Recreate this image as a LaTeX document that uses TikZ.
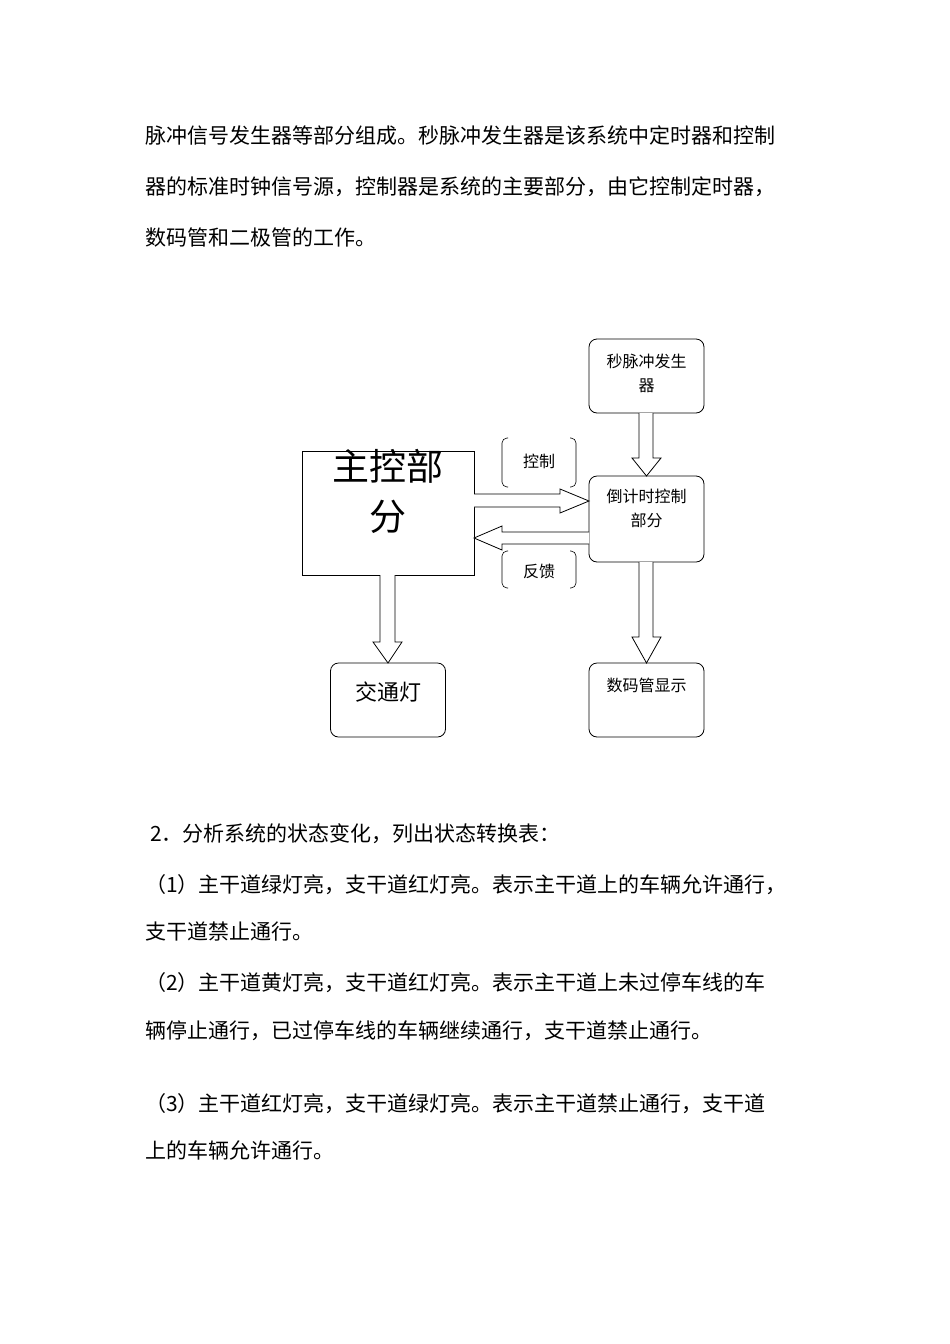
\documentclass[tikz,border=0pt]{standalone}
\usepackage{fontspec}
\setmainfont{Noto Sans CJK SC}
\begin{document}
\begin{tikzpicture}[x=1pt,y=-1pt,
  txt/.style={anchor=base west,inner sep=0pt,font=\fontsize{21}{21}\selectfont},
  rbox/.style={draw,rounded corners=8pt,line width=0.8pt,minimum width=115pt,minimum height=74pt,inner sep=0pt},
  barrow/.style={draw,line width=0.8pt,fill=white},
  brk/.style={draw,line width=0.6pt,rounded corners=5pt},
  small/.style={font=\fontsize{16}{24}\selectfont}]
\useasboundingbox (0,0) rectangle (950,1344);
% paragraphs
\node[txt] (p1) at (145,143) {脉冲信号发生器等部分组成。秒脉冲发生器是该系统中定时器和控制};
\node[txt] (p2) at (145,194) {器的标准时钟信号源，控制器是系统的主要部分，由它控制定时器，};
\node[txt] (p3) at (145,245) {数码管和二极管的工作。};
\node[txt] (q0) at (150,841) {2．分析系统的状态变化，列出状态转换表：};
\node[txt] (q1) at (145,892) {（1）主干道绿灯亮，支干道红灯亮。表示主干道上的车辆允许通行，};
\node[txt] (q2) at (145,939) {支干道禁止通行。};
\node[txt] (q3) at (145,990) {（2）主干道黄灯亮，支干道红灯亮。表示主干道上未过停车线的车};
\node[txt] (q4) at (145,1038) {辆停止通行，已过停车线的车辆继续通行，支干道禁止通行。};
\node[txt] (q5) at (145,1111) {（3）主干道红灯亮，支干道绿灯亮。表示主干道禁止通行，支干道};
\node[txt] (q6) at (145,1158) {上的车辆允许通行。};
% boxes
\node[rbox] (miao) at (646.5,376) {};
\node[small,align=center,anchor=north] at (646.5,350) {秒脉冲发生\\器};
\node[rbox,minimum height=86pt] (dao) at (646.5,519) {};
\node[small,align=center,anchor=north] at (646.5,486) {倒计时控制\\部分};
\node[rbox] (shu) at (646.5,700) {};
\node[small,anchor=north] at (646.5,674) {数码管显示};
\node[rbox] (jiao) at (388,700) {};
\node[anchor=north,font=\fontsize{22}{22}\selectfont] at (388,678) {交通灯};
\node[draw,line width=0.8pt,minimum width=172pt,minimum height=124pt,inner sep=0pt] (zhu) at (388,513) {};
\node[anchor=north,align=center,font=\fontsize{37}{50}\selectfont] at (388,446) {主控部\\分};
% bracket labels
\draw[brk] (508,438) -- (502,438) -- (502,487) -- (508,487);
\draw[brk] (570,438) -- (576,438) -- (576,487) -- (570,487);
\node[small] (kz) at (539,461) {控制};
\draw[brk] (508,551) -- (502,551) -- (502,588) -- (508,588);
\draw[brk] (570,551) -- (576,551) -- (576,588) -- (570,588);
\node[small] (fk) at (539,571) {反馈};
% block arrows
\draw[barrow] (639,413) -- (639,458) -- (632,458) -- (646.5,476) -- (661,458) -- (653,458) -- (653,413);
\draw[barrow] (639,562) -- (639,637) -- (632,637) -- (646.5,663) -- (661,637) -- (653,637) -- (653,562);
\draw[barrow] (380,575) -- (380,642) -- (373,642) -- (388,663) -- (402,642) -- (395,642) -- (395,575);
\draw[barrow] (474,494) -- (560,494) -- (560,489) -- (589,501) -- (560,513) -- (560,507) -- (474,507);
\draw[barrow] (589,532) -- (502,532) -- (502,526) -- (474,538) -- (502,550) -- (502,544) -- (589,544);
\end{tikzpicture}
\end{document}
